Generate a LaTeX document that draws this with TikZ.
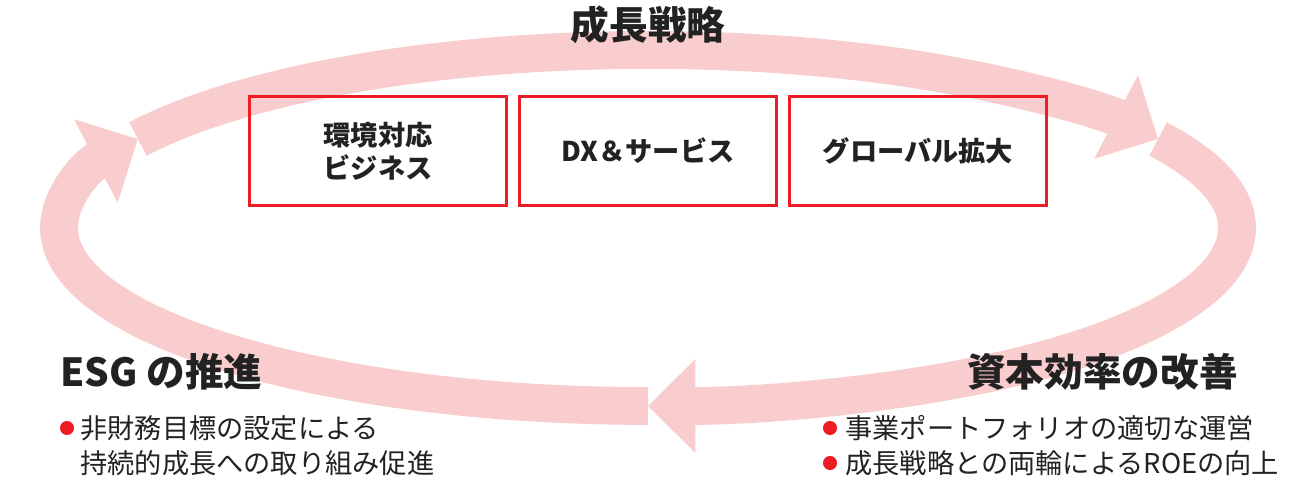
\documentclass[tikz,border=0pt]{standalone}
\usepackage{fontspec}
\setmainfont{Noto Sans CJK JP}
\usetikzlibrary{positioning}
\usetikzlibrary{arrows.meta}
\definecolor{ringpink}{HTML}{F9CDCD}
\definecolor{boxred}{HTML}{EE1C25}
\definecolor{ink}{HTML}{222222}
\tikzset{ring/.style={draw=ringpink,line width=21.5pt,-{Triangle[length=27pt,width=52pt]}}}
\tikzset{field/.style={draw=boxred,line width=1.8pt,minimum width=146pt,minimum height=62pt,inner sep=0pt,align=center,font=\fontsize{15.5}{19}\selectfont\bfseries,text=ink}}
\tikzset{head/.style={font=\fontsize{22}{26}\selectfont\bfseries,text=ink,inner sep=0pt}}
\tikzset{item/.style={font=\fontsize{15.5}{19.8}\selectfont,text=ink,inner sep=0pt,align=left}}
\tikzset{dot/.style={circle,fill=boxred,minimum size=8pt,inner sep=0pt}}
\begin{document}
\begin{tikzpicture}[x=0.02cm,y=0.02cm]
\useasboundingbox (0,0) rectangle (1308,482);

\draw[ring] (648,254) ++(150:589 and 178) arc[start angle=150,end angle=30,x radius=589,y radius=178];
\draw[ring] (648,254) ++(30:589 and 178) arc[start angle=30,end angle=-90,x radius=589,y radius=178];
\draw[ring] (648,254) ++(-90:589 and 178) arc[start angle=-90,end angle=-210,x radius=589,y radius=178];

\node[field] (env) at (378,331) {環境対応\\ビジネス};
\node[field] (dx) at (648,331) {DX＆サービス};
\node[field] (glob) at (918,331) {グローバル拡大};

\node[head] (grow) at (648,457) {成長戦略};
\node[head,anchor=west] (esg) at (60,110) {ESG の推進};
\node[head,anchor=east] (cap) at (1238,110) {資本効率の改善};

\node[dot] (d1) at (67,54) {};
\node[item,anchor=north west] (t1) at (80,67) {非財務目標の設定による\\持続的成長への取り組み促進};

\node[dot] (d2) at (830,54) {};
\node[dot] (d3) at (830,19) {};
\node[item,anchor=north west] (t2) at (845,67) {事業ポートフォリオの適切な運営\\成長戦略との両輪によるROEの向上};
\end{tikzpicture}
\end{document}
